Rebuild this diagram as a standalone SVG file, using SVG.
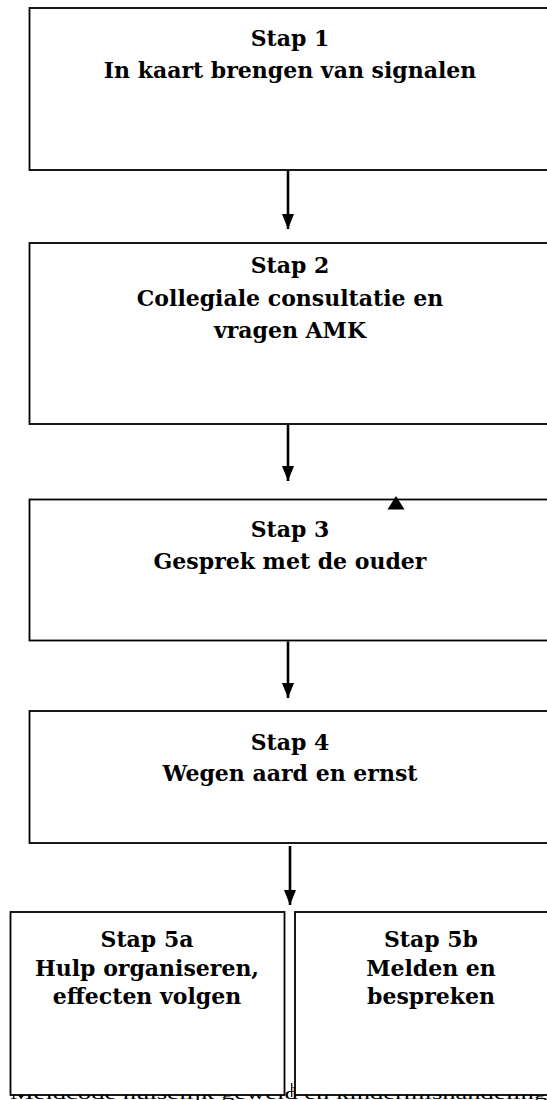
<svg xmlns="http://www.w3.org/2000/svg" width="547" height="1100" viewBox="0 0 547 1100">
<style>
.box{fill:#fff;stroke:#000;stroke-width:1.8}
.t{font-family:"DejaVu Serif","Liberation Serif",serif;font-weight:bold;font-size:22px;fill:#000;text-anchor:middle}
.c{stroke:#000;stroke-width:2.6;fill:none}
.foot{font-family:"Liberation Serif",serif;font-size:16px;fill:#000}
</style>
<defs>
<marker id="ah" markerWidth="15" markerHeight="12" refX="15" refY="6" orient="auto" markerUnits="userSpaceOnUse" viewBox="0 0 15 12">
<path d="M0,0 L15,6 L0,12 Z" fill="#000"/>
</marker>
</defs>
<text class="foot" x="10" y="1099" textLength="537" lengthAdjust="spacingAndGlyphs">Meldcode huiselijk geweld en kindermishandeling</text>
<g id="stap1">
<rect class="box" x="29.5" y="8" width="521" height="162"/>
<text class="t" x="290" y="46">Stap 1</text>
<text class="t" x="290" y="78">In kaart brengen van signalen</text>
</g>
<g id="stap2">
<rect class="box" x="29.5" y="243" width="521" height="181"/>
<text class="t" x="290" y="273">Stap 2</text>
<text class="t" x="290" y="306">Collegiale consultatie en</text>
<text class="t" x="290" y="338">vragen AMK</text>
</g>
<g id="stap3">
<rect class="box" x="29.5" y="499.5" width="521" height="141"/>
<text class="t" x="290" y="537">Stap 3</text>
<text class="t" x="290" y="569">Gesprek met de ouder</text>
</g>
<g id="stap4">
<rect class="box" x="29.5" y="711" width="521" height="132"/>
<text class="t" x="290" y="750">Stap 4</text>
<text class="t" x="290" y="781">Wegen aard en ernst</text>
</g>
<g id="stap5a">
<rect class="box" x="10.5" y="912" width="274" height="183"/>
<text class="t" x="147" y="947">Stap 5a</text>
<text class="t" x="147" y="976">Hulp organiseren,</text>
<text class="t" x="147" y="1004">effecten volgen</text>
</g>
<g id="stap5b">
<rect class="box" x="295" y="912" width="272" height="183"/>
<text class="t" x="431" y="947">Stap 5b</text>
<text class="t" x="431" y="976">Melden en</text>
<text class="t" x="431" y="1004">bespreken</text>
</g>
<g id="connectors">
<line class="c" x1="288" y1="171" x2="288" y2="229" marker-end="url(#ah)"/>
<line class="c" x1="288" y1="425" x2="288" y2="481" marker-end="url(#ah)"/>
<line class="c" x1="288" y1="641.5" x2="288" y2="698" marker-end="url(#ah)"/>
<line class="c" x1="290" y1="846" x2="290" y2="905" marker-end="url(#ah)"/>
<polygon points="387.5,509.5 404.5,509.5 396,496" fill="#000"/>
<line x1="291.7" y1="1083" x2="291.7" y2="1097" stroke="#000" stroke-width="1.2"/>
</g>
</svg>
